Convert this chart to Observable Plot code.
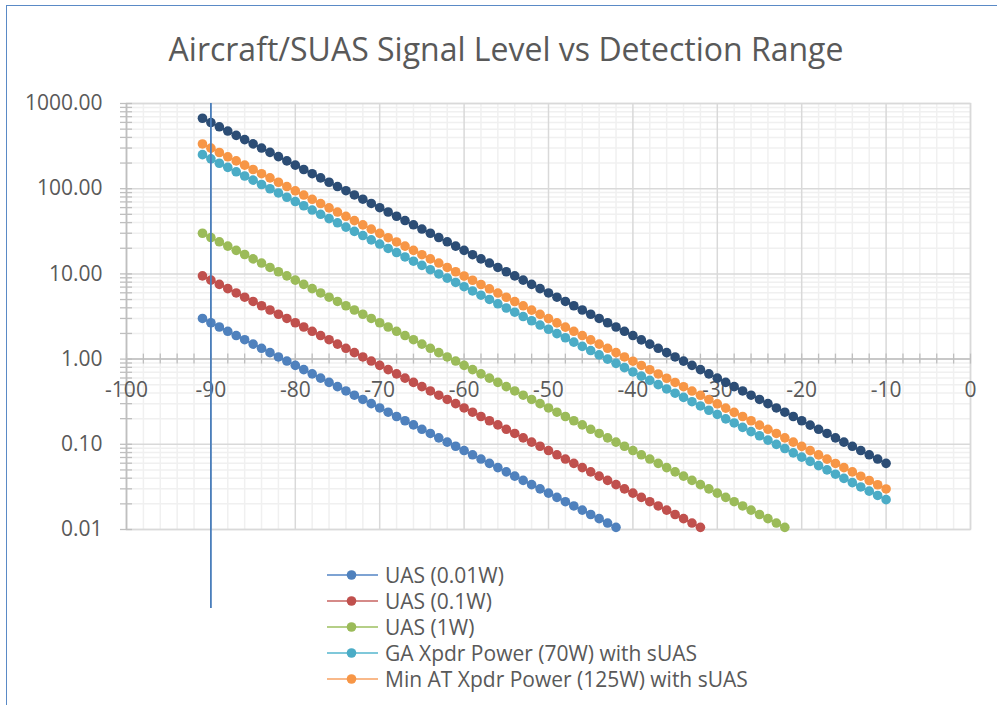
<!DOCTYPE html>
<html><head><meta charset="utf-8">
<script src="https://cdn.jsdelivr.net/npm/d3@7"></script>
<script src="https://cdn.jsdelivr.net/npm/@observablehq/plot@0.6"></script>
<style>
body{margin:0;background:#fff;font-family:"Open Sans",sans-serif;}
#wrap{position:relative;width:997px;height:705px;overflow:hidden;background:#fff;}
#chart{position:absolute;left:0;top:0;}
#border{position:absolute;left:6px;top:5px;width:1100px;height:800px;border-left:1.5px solid #5a8ac6;border-top:1.5px solid #5a8ac6;pointer-events:none;}
#title{position:absolute;left:6px;width:1000px;top:27px;text-align:center;font-size:32px;line-height:normal;color:#595959;white-space:nowrap;}
.lg{position:absolute;left:327px;height:26px;display:flex;align-items:center;font-size:21px;color:#595959;white-space:nowrap;}
.lg svg{margin-right:6px;}
</style>
</head><body>
<div id="wrap">
  <div id="chart"></div>
  <div id="title">Aircraft/SUAS Signal Level vs Detection Range</div>
  <div id="legend"></div>
  <div id="border"></div>
</div>
<script>
// Signal level (dBm) for every point
const signalLevel = [-91,-90,-89,-88,-87,-86,-85,-84,-83,-82,-81,-80,-79,-78,-77,-76,-75,-74,-73,-72,-71,-70,-69,-68,-67,-66,-65,-64,-63,-62,-61,-60,-59,-58,-57,-56,-55,-54,-53,-52,-51,-50,-49,-48,-47,-46,-45,-44,-43,-42,-41,-40,-39,-38,-37,-36,-35,-34,-33,-32,-31,-30,-29,-28,-27,-26,-25,-24,-23,-22,-21,-20,-19,-18,-17,-16,-15,-14,-13,-12,-11,-10];

const uas001 = [3.00,2.67,2.38,2.12,1.89,1.69,1.50,1.34,1.19,1.06,0.949,0.845,0.753,0.671,0.598,0.533,0.475,0.423,0.377,0.336,0.300,0.267,0.238,0.212,0.189,0.169,0.150,0.134,0.119,0.106,0.0949,0.0845,0.0753,0.0671,0.0598,0.0533,0.0475,0.0423,0.0377,0.0336,0.0300,0.0267,0.0238,0.0212,0.0189,0.0169,0.0150,0.0134,0.0119,0.0106];

const uas01 = [9.49,8.45,7.53,6.71,5.98,5.33,4.75,4.23,3.77,3.36,3.00,2.67,2.38,2.12,1.89,1.69,1.50,1.34,1.19,1.06,0.949,0.845,0.753,0.671,0.598,0.533,0.475,0.423,0.377,0.336,0.300,0.267,0.238,0.212,0.189,0.169,0.150,0.134,0.119,0.106,0.0949,0.0845,0.0753,0.0671,0.0598,0.0533,0.0475,0.0423,0.0377,0.0336,0.0300,0.0267,0.0238,0.0212,0.0189,0.0169,0.0150,0.0134,0.0119,0.0106];

const uas1 = [30.0,26.7,23.8,21.2,18.9,16.9,15.0,13.4,11.9,10.6,9.49,8.45,7.53,6.71,5.98,5.33,4.75,4.23,3.77,3.36,3.00,2.67,2.38,2.12,1.89,1.69,1.50,1.34,1.19,1.06,0.949,0.845,0.753,0.671,0.598,0.533,0.475,0.423,0.377,0.336,0.300,0.267,0.238,0.212,0.189,0.169,0.150,0.134,0.119,0.106,0.0949,0.0845,0.0753,0.0671,0.0598,0.0533,0.0475,0.0423,0.0377,0.0336,0.0300,0.0267,0.0238,0.0212,0.0189,0.0169,0.0150,0.0134,0.0119,0.0106];

const ga70 = [251,224,199,178,158,141,126,112,99.9,89.1,79.4,70.7,63.1,56.2,50.1,44.6,39.8,35.4,31.6,28.2,25.1,22.4,19.9,17.8,15.8,14.1,12.6,11.2,9.99,8.91,7.94,7.07,6.31,5.62,5.01,4.46,3.98,3.55,3.16,2.82,2.51,2.24,1.99,1.78,1.58,1.41,1.26,1.12,0.999,0.891,0.794,0.707,0.631,0.562,0.501,0.446,0.398,0.355,0.316,0.282,0.251,0.224,0.199,0.178,0.158,0.141,0.126,0.112,0.0999,0.0891,0.0794,0.0707,0.0631,0.0562,0.0501,0.0446,0.0398,0.0355,0.0316,0.0282,0.0251,0.0224];

const at125 = [335,299,266,237,212,189,168,150,134,119,106,94.5,84.2,75.1,66.9,59.6,53.2,47.4,42.2,37.6,33.5,29.9,26.6,23.7,21.2,18.9,16.8,15.0,13.4,11.9,10.6,9.45,8.42,7.51,6.69,5.96,5.32,4.74,4.22,3.76,3.35,2.99,2.66,2.37,2.12,1.89,1.68,1.50,1.34,1.19,1.06,0.945,0.842,0.751,0.669,0.596,0.532,0.474,0.422,0.376,0.335,0.299,0.266,0.237,0.212,0.189,0.168,0.150,0.134,0.119,0.106,0.0945,0.0842,0.0751,0.0669,0.0596,0.0532,0.0474,0.0422,0.0376,0.0335,0.0299];

const highPower = [671,598,533,475,423,377,336,300,267,238,212,189,168,150,134,119,106,94.7,84.5,75.3,67.1,59.8,53.3,47.5,42.3,37.7,33.6,30.0,26.7,23.8,21.2,18.9,16.8,15.0,13.4,11.9,10.6,9.47,8.45,7.53,6.71,5.98,5.33,4.75,4.23,3.77,3.36,3.00,2.67,2.38,2.12,1.89,1.68,1.50,1.34,1.19,1.06,0.947,0.845,0.753,0.671,0.598,0.533,0.475,0.423,0.377,0.336,0.300,0.267,0.238,0.212,0.189,0.168,0.150,0.134,0.119,0.106,0.0947,0.0845,0.0753,0.0671,0.0598];

const seriesNames = ["UAS (0.01W)","UAS (0.1W)","UAS (1W)","GA Xpdr Power (70W) with sUAS","Min AT Xpdr Power (125W) with sUAS","High Xpdr Power with sUAS"];
const seriesValues = [uas001, uas01, uas1, ga70, at125, highPower];
const drawOrder = [0,1,2,4,3,5];

// axis ticks and labels
const xMajor = [-100,-90,-80,-70,-60,-50,-40,-30,-20,-10,0];
const xMinor = [-98,-96,-94,-92,-88,-86,-84,-82,-78,-76,-74,-72,-68,-66,-64,-62,-58,-56,-54,-52,-48,-46,-44,-42,-38,-36,-34,-32,-28,-26,-24,-22,-18,-16,-14,-12,-8,-6,-4,-2];
const xLabels = ["-100","-90","-80","-70","-60","-50","-40","-30","-20","-10","0"];
const yMajor = [0.01,0.1,1,10,100,1000];
const yMinor = [0.02,0.03,0.04,0.05,0.06,0.07,0.08,0.09,0.2,0.3,0.4,0.5,0.6,0.7,0.8,0.9,2,3,4,5,6,7,8,9,20,30,40,50,60,70,80,90,200,300,400,500,600,700,800,900];
const yLabels = ["0.01","0.10","1.00","10.00","100.00","1000.00"];
const xAxisCross = [1];
const refLevel = [-90];

// styles
const seriesColors = ["#4f81bd","#c0504d","#9bbb59","#4bacc6","#f79646","#2c4d75"];
const legendLineColors = ["#7ea3d3","#d58a88","#b5cf87","#7fc8da","#f9b98a"];

const rows = drawOrder.flatMap(k => seriesValues[k].map((v, i) => ({level: signalLevel[i], range: v, series: seriesNames[k]})));

const plot = Plot.plot({
  width: 997,
  height: 705,
  marginLeft: 126,
  marginRight: 27,
  marginTop: 103,
  marginBottom: 176,
  style: {fontFamily: "'Open Sans', sans-serif", fontSize: "21px", color: "#595959", background: "transparent", overflow: "visible"},
  x: {type: "linear", domain: [-100, 0], axis: null},
  y: {type: "log", domain: [0.01, 1000], axis: null},
  color: {domain: seriesNames, range: seriesColors},
  marks: [
    Plot.ruleX(xMinor, {stroke: "#f0f0f0", strokeWidth: 1.5}),
    Plot.ruleY(yMinor, {stroke: "#f0f0f0", strokeWidth: 1.5}),
    Plot.ruleX(xMajor, {stroke: "#d9d9d9", strokeWidth: 1.5}),
    Plot.ruleY(yMajor, {stroke: "#d9d9d9", strokeWidth: 1.5}),
    Plot.frame({stroke: "#d9d9d9", strokeWidth: 1.5}),
    // y axis line + ticks
    Plot.ruleX([xMajor[0]], {stroke: "#bfbfbf", strokeWidth: 1.5}),
    Plot.ruleY(yMajor.concat(yMinor), {x1: xMajor[0], x2: xMajor[0], insetLeft: -6, insetRight: -6, stroke: "#bfbfbf", strokeWidth: 1.3}),
    // x axis line at y = 1 + ticks
    Plot.ruleY(xAxisCross, {stroke: "#bfbfbf", strokeWidth: 1.5}),
    Plot.ruleX(xMajor.concat(xMinor), {y1: xAxisCross[0], y2: xAxisCross[0], insetTop: -5, insetBottom: -5, stroke: "#bfbfbf", strokeWidth: 1.3}),
    // labels
    Plot.text(xMajor, {x: d => d, y: xAxisCross[0], text: (d, i) => xLabels[i], dy: 31, fill: "#595959"}),
    Plot.text(yMajor, {frameAnchor: "left", y: d => d, text: (d, i) => yLabels[i], textAnchor: "end", dx: -24, fill: "#595959"}),
    // series
    Plot.line(rows, {x: "level", y: "range", z: "series", stroke: "series", strokeWidth: 2}),
    Plot.dot(rows, {x: "level", y: "range", fill: "series", r: 4.8}),
    // reference line
    Plot.ruleX(refLevel, {stroke: "#4a7ebb", strokeWidth: 1.8, insetBottom: -79})
  ]
});
document.getElementById("chart").appendChild(plot);

// legend (first five series)
const legend = document.getElementById("legend");
[0,1,2,3,4].forEach((k, i) => {
  const row = document.createElement("div");
  row.className = "lg";
  row.style.top = (562 + i * 26) + "px";
  row.innerHTML = `<svg width="52" height="12"><line x1="0" y1="6" x2="51" y2="6" stroke="${legendLineColors[k]}" stroke-width="2"/><circle cx="24.5" cy="6" r="4.8" fill="${seriesColors[k]}"/></svg><span>${seriesNames[k]}</span>`;
  legend.appendChild(row);
});
</script>
</body></html>
